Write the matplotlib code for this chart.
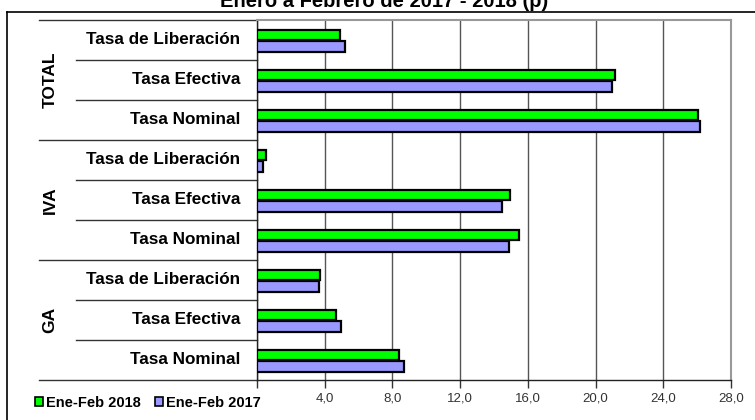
import matplotlib.pyplot as plt
import matplotlib.transforms as mtransforms
from matplotlib.lines import Line2D
from matplotlib.patches import Patch

plt.rcParams['font.family'] = ['Liberation Sans', 'DejaVu Sans']

# Data (percent)
groups = ['TOTAL', 'IVA', 'GA']
rates = ['Tasa de Liberación', 'Tasa Efectiva', 'Tasa Nominal']
labels = [r for g in groups for r in rates]
feb_2018 = [4.92, 21.12, 26.05, 0.53, 14.94, 15.47, 3.74, 4.68, 8.40]
feb_2017 = [5.18, 20.97, 26.18, 0.37, 14.50, 14.86, 3.66, 4.96, 8.68]
series_names = ['Ene-Feb 2018', 'Ene-Feb 2017']
colors = ['#00FF00', '#9999FF']
xticks = [0, 4, 8, 12, 16, 20, 24, 28]
title = 'Enero a Febrero de 2017 - 2018 (p)'

W, H = 755, 420
fig = plt.figure(figsize=(W / 100, H / 100), dpi=100)
ax = fig.add_axes([257 / W, 1 - 380 / H, 474 / W, 360 / H])

n = len(labels)
y = [i for i in range(n)]
ax.barh([v + 0.37 for v in y], feb_2018, height=0.25, color=colors[0],
        edgecolor='black', linewidth=1.6, zorder=3)
ax.barh([v + 0.655 for v in y], feb_2017, height=0.27, color=colors[1],
        edgecolor='black', linewidth=1.6, zorder=3)

ax.set_xlim(0, 28)
ax.set_ylim(n, 0)
ax.set_xticks(xticks)
ax.set_xticklabels(['' if t == 0 else f'{t:.1f}'.replace('.', ',') for t in xticks],
                   fontsize=9.5, color='#333333')
ax.tick_params(axis='x', length=6, width=1, color='#333333', pad=3)
ax.set_yticks([])
ax.grid(axis='x', color='#555555', linewidth=1, zorder=1)

for s in ['top', 'right']:
    ax.spines[s].set_color('#999999')
    ax.spines[s].set_linewidth(1.5)
for s in ['left', 'bottom']:
    ax.spines[s].set_color('#222222')
    ax.spines[s].set_linewidth(1)

trans = mtransforms.blended_transform_factory(ax.transAxes, ax.transData)

# category labels
for i, lab in enumerate(labels):
    ax.text((240 - 257) / 474, i + 0.5, lab, transform=trans, ha='right',
            va='center', fontsize=12.3, fontweight='bold')

# separators in the category area
for i in range(n + 1):
    x0 = (39 - 257) / 474 if i % 3 == 0 else (76 - 257) / 474
    ax.plot([x0, 0], [i, i], transform=trans, color='#333333', lw=1,
            clip_on=False)

# group labels
for k, g in enumerate(groups):
    ax.text((50 - 257) / 474, 3 * k + 1.5, g, transform=trans, rotation=90,
            ha='center', va='center', fontsize=12.5, fontweight='bold')

# outer frame
fig.add_artist(Line2D([7 / W, 7 / W], [0, 1 - 12 / H], color='black', lw=1.2))
fig.add_artist(Line2D([7 / W, 1], [1 - 12 / H, 1 - 12 / H], color='black', lw=1.2))

fig.text(384 / W, 1 - 7 / H, title, ha='center', va='baseline',
         fontsize=14.5, fontweight='bold')

handles = [Patch(facecolor=c, edgecolor='black', linewidth=1.2) for c in colors]
fig.legend(handles, series_names, loc='center left',
           bbox_to_anchor=(35 / W, 1 - 403 / H), ncol=2, frameon=False,
           handlelength=0.55, handleheight=0.55, handletextpad=0.2,
           columnspacing=1.0, borderaxespad=0, borderpad=0,
           prop={'size': 10.5, 'weight': 'bold'})

fig.savefig('out.png', dpi=100)
